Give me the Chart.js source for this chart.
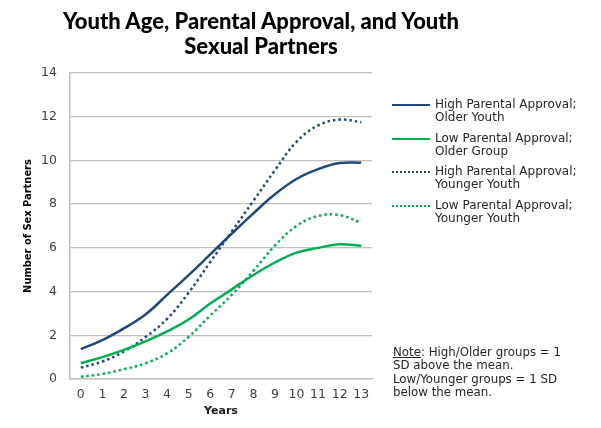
<!DOCTYPE html>
<html><head><meta charset="utf-8">
<script src="https://cdn.jsdelivr.net/npm/chart.js@4"></script>
<style>
html,body{margin:0;padding:0;background:#fff;}
#wrap{position:relative;width:601px;height:428px;overflow:hidden;font-family:'DejaVu Sans',Verdana,sans-serif;}
canvas{position:absolute;left:0;top:0;}
#title{position:absolute;left:0;width:522px;top:8px;text-align:center;font-family:Lato,sans-serif;font-weight:900;font-size:22px;line-height:25px;color:#000;}
.leg{position:absolute;left:392px;font-size:12px;line-height:13.3px;color:#262626;white-space:nowrap;}
.sample{position:absolute;left:0;top:6px;width:38px;height:0;}
.txt{margin-left:43px;}
#note{position:absolute;left:393px;top:346px;font-size:11.8px;line-height:13.3px;color:#262626;white-space:nowrap;}
</style></head>
<body>
<div id="wrap">
<canvas id="c" width="601" height="428"></canvas>
<div id="title">Youth Age, Parental Approval, and Youth<br>Sexual Partners</div>
<div class="leg" style="top:98px"><span class="sample" style="border-top:2.5px solid #1F497D"></span><div class="txt">High Parental Approval;<br>Older Youth</div></div>
<div class="leg" style="top:131.5px"><span class="sample" style="border-top:2.5px solid #00B050"></span><div class="txt">Low Parental Approval;<br>Older Group</div></div>
<div class="leg" style="top:165px"><span class="sample" style="border-top:2.5px dotted #1F497D"></span><div class="txt">High Parental Approval;<br>Younger Youth</div></div>
<div class="leg" style="top:198.5px"><span class="sample" style="border-top:2.5px dotted #00B050"></span><div class="txt">Low Parental Approval;<br>Younger Youth</div></div>
<div id="note"><u>Note</u>: High/Older groups = 1<br>SD above the mean.<br>Low/Younger groups = 1 SD<br>below the mean.</div>
</div>
<script>
const years = ['0','1','2','3','4','5','6','7','8','9','10','11','12','13'];
const highOlder   = [1.37, 1.78, 2.32, 2.95, 3.85, 4.75, 5.70, 6.65, 7.58, 8.45, 9.15, 9.60, 9.88, 9.90];
const lowOlder    = [0.72, 1.00, 1.33, 1.72, 2.18, 2.72, 3.45, 4.10, 4.76, 5.33, 5.78, 6.00, 6.16, 6.10];
const highYounger = [0.52, 0.80, 1.26, 1.92, 2.75, 3.95, 5.35, 6.75, 8.15, 9.55, 10.85, 11.60, 11.87, 11.75];
const lowYounger  = [0.10, 0.23, 0.45, 0.72, 1.17, 1.93, 2.90, 3.85, 4.95, 6.10, 7.00, 7.46, 7.50, 7.15];
const yMin = 0, yMax = 14, yStep = 2;

const NAVY = '#1F497D', GREEN = '#00B050';
new Chart(document.getElementById('c'), {
  type: 'line',
  data: {
    labels: years,
    datasets: [
      {label:'High Parental Approval; Older Youth', data: highOlder, borderColor: NAVY, borderWidth: 2.5},
      {label:'Low Parental Approval; Older Group', data: lowOlder, borderColor: GREEN, borderWidth: 2.5},
      {label:'High Parental Approval; Younger Youth', data: highYounger, borderColor: NAVY, borderWidth: 2.5, borderDash:[2.5,3]},
      {label:'Low Parental Approval; Younger Youth', data: lowYounger, borderColor: GREEN, borderWidth: 2.5, borderDash:[2.5,3]}
    ]
  },
  options: {
    responsive: false,
    animation: false,
    devicePixelRatio: 1,
    layout: {padding: {left: 0, right: 229, top: 73, bottom: 0}},
    plugins: {legend: {display: false}, tooltip: {enabled: false}, title: {display: false}},
    elements: {point: {radius: 0}, line: {tension: 0.4, fill: false}},
    scales: {
      x: {
        offset: true,
        grid: {display: false, drawTicks: false},
        border: {display: true, color: '#bfbfbf', width: 1.5},
        ticks: {font: {family: "'DejaVu Sans', Verdana, sans-serif", size: 12.5}, color: '#404040', padding: 8, maxRotation: 0, autoSkip: false},
        title: {display: true, text: 'Years', font: {family: "'DejaVu Sans', Verdana, sans-serif", size: 11, weight: 'bold'}, color: '#1a1a1a', padding: {top: 0, bottom: 10}},
        afterFit(s) { s.height = 49; }
      },
      y: {
        min: yMin, max: yMax,
        ticks: {stepSize: yStep, font: {family: "'DejaVu Sans', Verdana, sans-serif", size: 12.5}, color: '#404040', padding: 13},
        grid: {color: '#c0c0c0', lineWidth: 1.3, drawTicks: false},
        border: {display: true, color: '#bfbfbf', width: 1.5},
        title: {display: true, text: 'Number of Sex Partners', font: {family: "'DejaVu Sans Condensed', sans-serif", size: 11, weight: 'bold'}, color: '#000', padding: {top: 22, bottom: 0}},
        afterFit(s) { s.width = 70; }
      }
    }
  }
});
</script>
</body></html>
